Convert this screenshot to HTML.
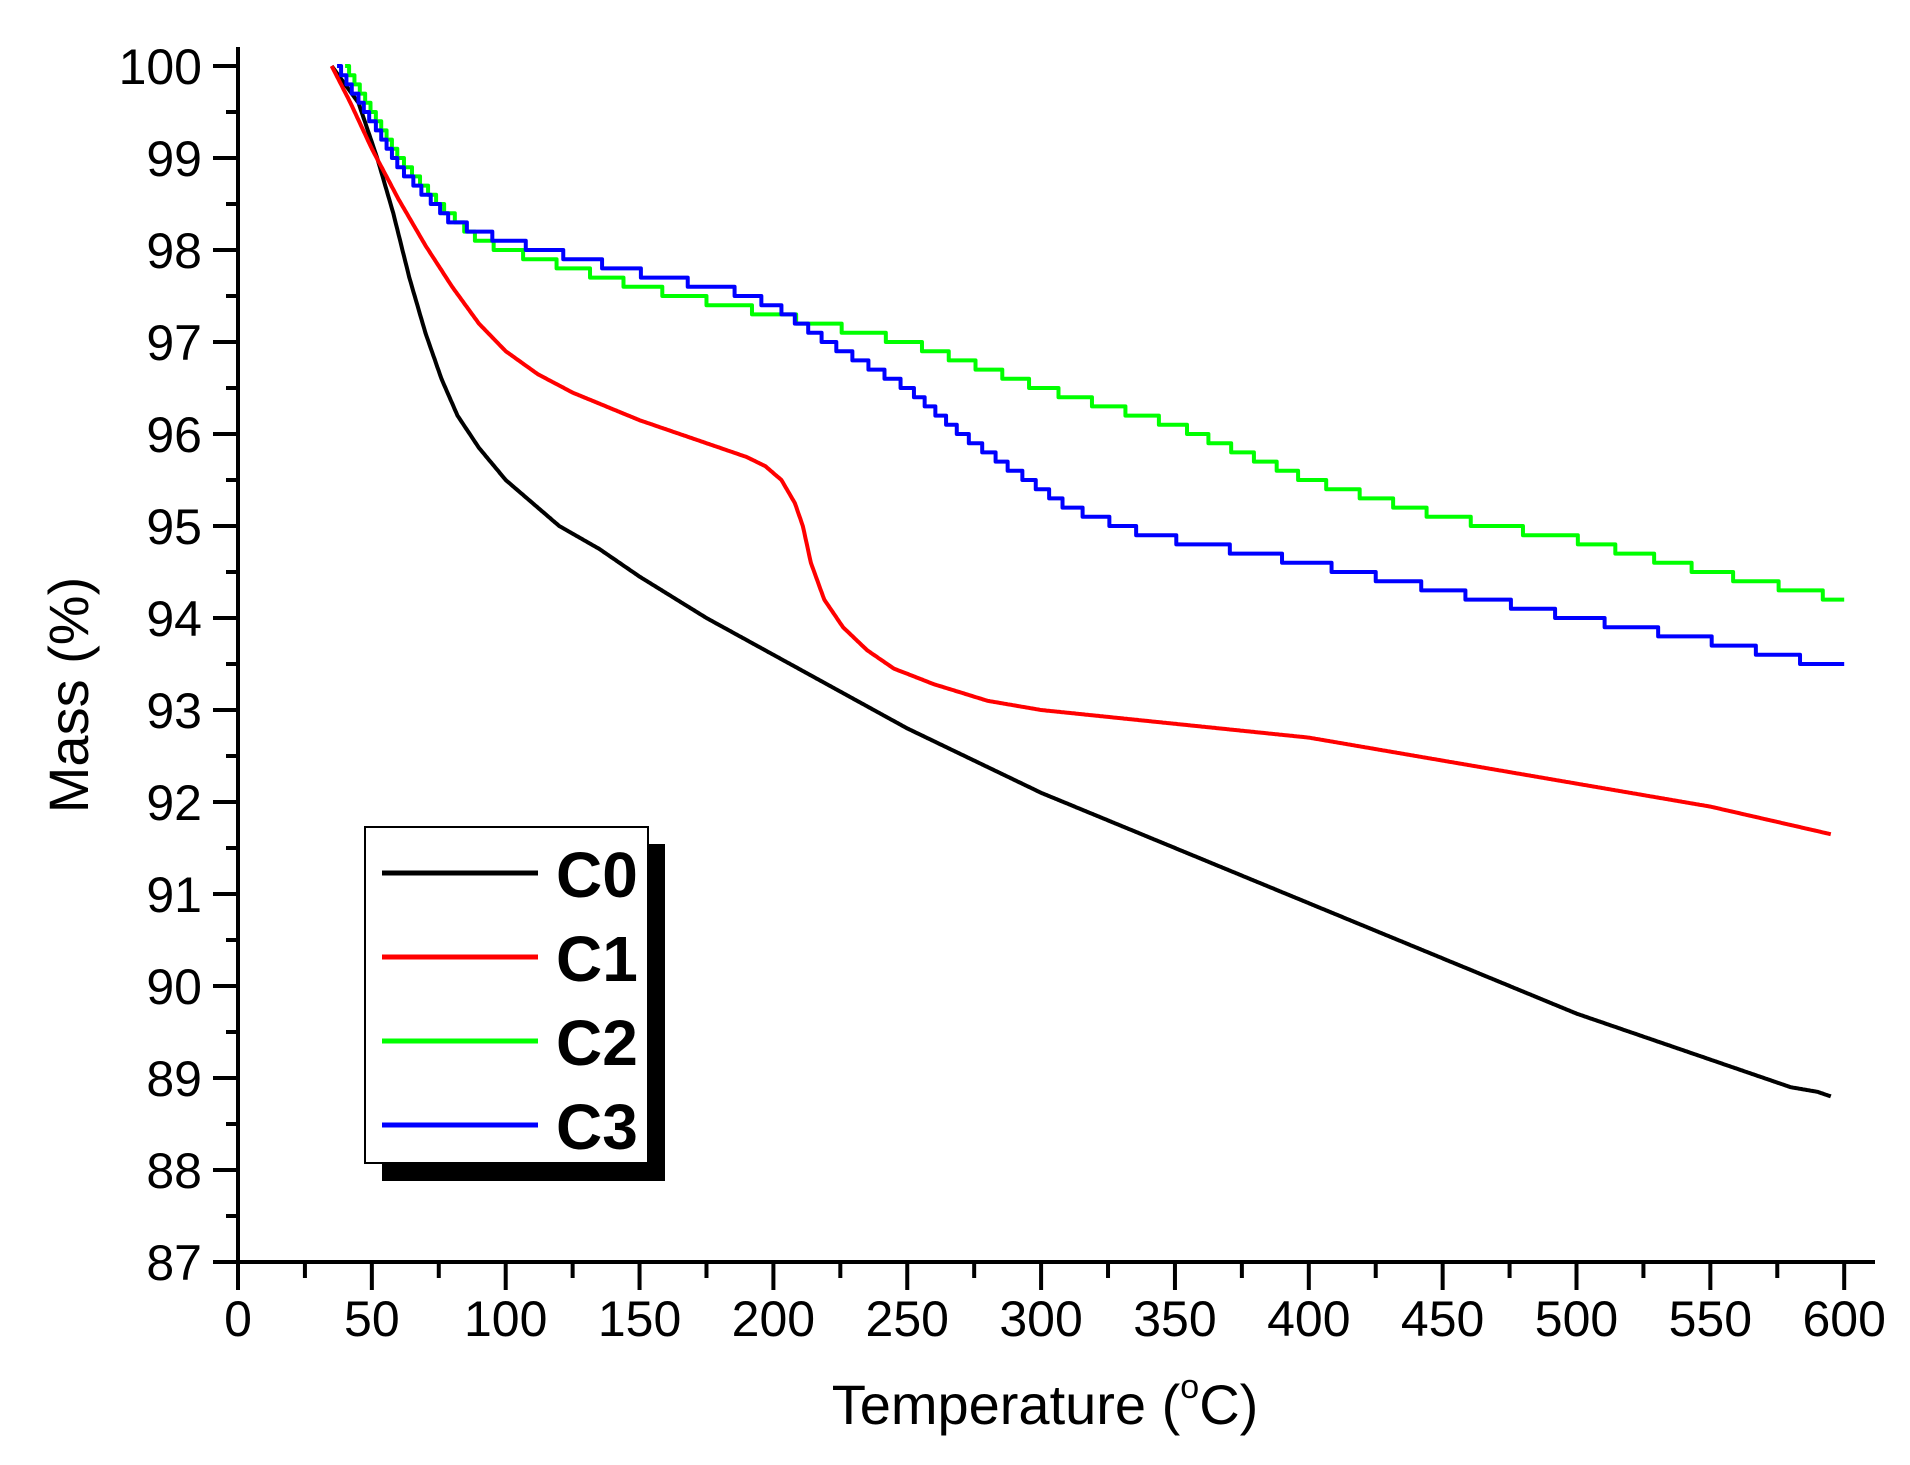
<!DOCTYPE html>
<html><head><meta charset="utf-8"><style>
html,body{margin:0;padding:0;background:#fff;}
svg{display:block;font-family:"Liberation Sans",Arial,sans-serif;}
</style></head><body>
<svg id="s" width="1910" height="1465" xmlns="http://www.w3.org/2000/svg">
<rect width="1910" height="1465" fill="#fff"/>
<g id="ax" stroke="#000" stroke-width="4" fill="none"></g>
<g id="tl" font-size="50" fill="#000"></g>
<g id="cv" fill="none" stroke-width="4" stroke-linejoin="round"></g>
<text x="1045" y="1424" font-size="56" text-anchor="middle">Temperature (<tspan font-size="34" dy="-26">o</tspan><tspan dy="26">C)</tspan></text>
<text transform="translate(88,695) rotate(-90)" font-size="56" text-anchor="middle">Mass (%)</text>
<rect x="382" y="844" width="283" height="337" fill="#000"/>
<rect x="365" y="827" width="283" height="336" fill="#fff" stroke="#000" stroke-width="2"/>
<g stroke-width="5"><line x1="382" y1="873" x2="538" y2="873" stroke="#000"/><line x1="382" y1="957" x2="538" y2="957" stroke="#f00"/><line x1="382" y1="1041" x2="538" y2="1041" stroke="#0f0"/><line x1="382" y1="1125" x2="538" y2="1125" stroke="#00f"/></g>
<g font-size="64" font-weight="bold"><text x="556" y="897">C0</text><text x="556" y="981">C1</text><text x="556" y="1065">C2</text><text x="556" y="1149">C3</text></g>
</svg>
<script>
var NS="http://www.w3.org/2000/svg";
var AY=1262;
function X(t){return 238+2.677*t;} function Y(v){return 66+92.0*(100-v);}
function el(p,n,a,txt){var e=document.createElementNS(NS,n);for(var k in a)e.setAttribute(k,a[k]);if(txt!=null)e.textContent=txt;document.getElementById(p).appendChild(e);return e;}
el("ax","line",{x1:238,y1:47,x2:238,y2:AY+2});
el("ax","line",{x1:236,y1:AY,x2:1875,y2:AY});
for(var v=87;v<=100;v++){var y=Y(v);el("ax","line",{x1:213,y1:y,x2:238,y2:y});el("tl","text",{x:202,y:y+18,"text-anchor":"end"},String(v));
 if(v<100){var ym=Y(v+0.5);el("ax","line",{x1:226,y1:ym,x2:238,y2:ym});}}
for(var t=0;t<=600;t+=25){var x=X(t);var maj=t%50==0;el("ax","line",{x1:x,y1:AY,x2:x,y2:maj?AY+28:AY+16});if(maj)el("tl","text",{x:x,y:AY+74,"text-anchor":"middle"},String(t));}
function interp(d,t){for(var i=1;i<d.length;i++){if(t<=d[i][0]){var a=d[i-1],b=d[i];return a[1]+(b[1]-a[1])*(t-a[0])/(b[0]-a[0]);}}return d[d.length-1][1];}
function curve(d,col,step){var p="",t0=d[0][0],t1=d[d.length-1][0];var prev=null;
 for(var t=t0;t<=t1;t+=0.5){var v=interp(d,t);if(step){v=Math.round(v*10)/10;
   if(prev===null)p+="M"+X(t)+","+Y(v);else if(v!==prev)p+="L"+X(t)+","+Y(prev)+"L"+X(t)+","+Y(v);prev=v;}
  else p+=(p?"L":"M")+X(t).toFixed(1)+","+Y(v).toFixed(1);}
 if(step)p+="L"+X(t1)+","+Y(prev);
 el("cv","path",{d:p,stroke:col});}
curve([[35,100],[45,99.6],[52,99.0],[58,98.4],[64,97.7],[70,97.1],[76,96.6],[82,96.2],[90,95.85],[100,95.5],[110,95.25],[120,95.0],[135,94.75],[150,94.45],[175,94.0],[200,93.6],[250,92.8],[300,92.1],[350,91.5],[400,90.9],[450,90.3],[500,89.7],[550,89.2],[580,88.9],[590,88.85],[595,88.8]],"#000",false);
curve([[35,100],[42,99.6],[50,99.1],[60,98.55],[70,98.05],[80,97.6],[90,97.2],[100,96.9],[112,96.65],[125,96.45],[150,96.15],[175,95.9],[190,95.75],[197,95.65],[203,95.5],[208,95.25],[211,95.0],[214,94.6],[219,94.2],[226,93.9],[235,93.65],[245,93.45],[260,93.28],[280,93.1],[300,93.0],[350,92.85],[400,92.7],[450,92.45],[500,92.2],[550,91.95],[595,91.65]],"#f00",false);
curve([[40,100],[50,99.5],[60,99.0],[75,98.5],[90,98.1],[100,98.0],[150,97.6],[200,97.3],[250,97.0],[300,96.5],[350,96.1],[400,95.5],[450,95.1],[500,94.85],[550,94.5],[600,94.2]],"#0f0",true);
curve([[37,100],[50,99.4],[60,98.9],[80,98.3],[100,98.1],[150,97.75],[185,97.55],[200,97.4],[220,97.0],[250,96.5],[270,96.0],[290,95.6],[310,95.2],[340,94.9],[400,94.6],[450,94.3],[500,94.0],[550,93.75],[600,93.45]],"#00f",true);
</script>
</body></html>
